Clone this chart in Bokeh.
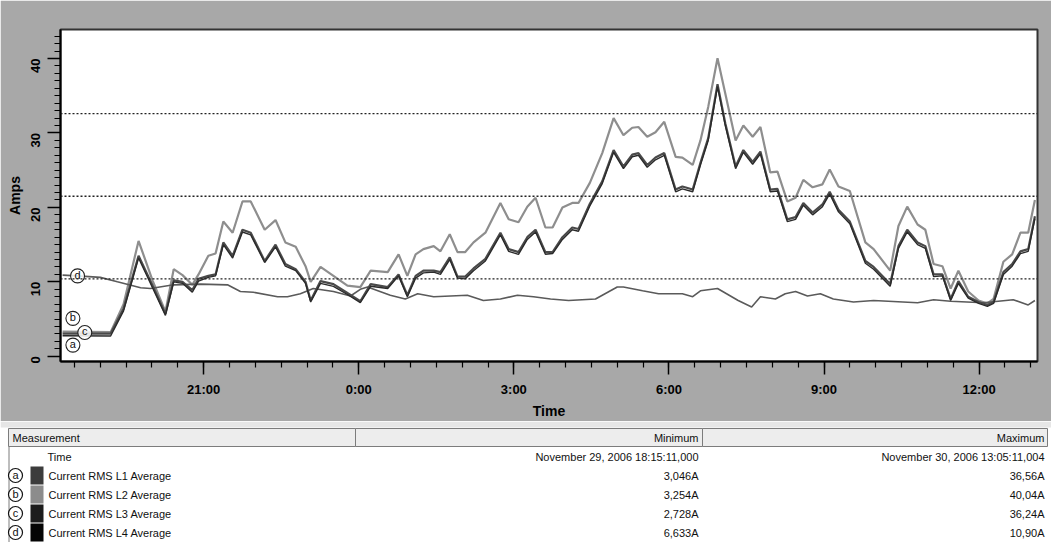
import math
from bokeh.plotting import figure
from bokeh.models import Range1d, FixedTicker, Span
from bokeh.layouts import column
from bokeh.embed import file_html
from bokeh.resources import INLINE
from bokeh.core.properties import value

FONT = "Liberation Sans"

# ---------------- data (time = decimal hours from Nov 29 00:00; 24+ = Nov 30) -------------
t_phase = [18.27, 19.20, 19.45, 19.74, 20.01, 20.26, 20.42, 20.59, 20.78, 20.90,
           21.09, 21.23, 21.38, 21.56, 21.75, 21.91, 22.18, 22.39, 22.58, 22.78,
           22.97, 23.07, 23.26, 23.51, 23.78, 24.03, 24.23, 24.56, 24.77, 24.94,
           25.10, 25.25, 25.45, 25.58, 25.76, 25.91, 26.06, 26.22, 26.45, 26.74,
           26.90, 27.09, 27.26, 27.42, 27.61, 27.75, 27.94, 28.13, 28.25, 28.47,
           28.71, 28.93, 29.12, 29.29, 29.41, 29.58, 29.74, 29.91, 30.13, 30.26,
           30.46, 30.61, 30.76, 30.94, 31.09, 31.29, 31.44, 31.62, 31.77, 31.96,
           32.10, 32.29, 32.45, 32.60, 32.78, 32.97, 33.11, 33.28, 33.50, 33.80,
           33.96, 34.28, 34.44, 34.61, 34.81, 34.96, 35.12, 35.29, 35.45, 35.60,
           35.79, 35.99, 36.16, 36.28, 36.47, 36.64, 36.80, 36.95, 37.08]

l2_avg = [3.3, 3.25, 7.0, 15.5, 10.2, 6.0, 11.7, 10.9, 9.6, 11.0,
          13.5, 13.8, 18.1, 16.6, 20.8, 20.8, 17.0, 18.3, 15.3, 14.7,
          12.1, 10.0, 12.0, 10.8, 9.5, 9.3, 11.5, 11.3, 13.7, 10.8,
          13.7, 14.4, 14.8, 14.1, 16.4, 14.0, 14.0, 15.3, 16.6, 20.6,
          18.4, 18.0, 20.1, 21.3, 17.3, 17.3, 20.0, 20.6, 20.6, 23.3,
          27.3, 32.0, 29.7, 30.7, 30.8, 29.5, 30.1, 31.5, 26.8, 26.7,
          25.7, 29.0, 33.5, 40.04, 35.3, 29.0, 31.0, 29.5, 30.8, 24.7,
          24.8, 20.8, 21.3, 23.7, 22.7, 23.1, 25.1, 22.8, 22.2, 15.3,
          14.4, 11.5, 17.5, 20.1, 17.7, 17.0, 12.4, 12.1, 9.1, 11.5,
          8.7, 7.5, 7.1, 7.7, 12.7, 13.7, 16.6, 16.6, 21.0]

l1_avg = [3.05, 3.05, 6.4, 13.5, 9.5, 5.7, 10.2, 10.0, 8.9, 10.4,
          10.8, 11.0, 15.3, 13.5, 17.0, 16.6, 12.8, 15.0, 12.4, 11.7,
          10.0, 7.5, 10.1, 9.7, 8.5, 7.4, 9.7, 9.3, 11.0, 8.2,
          10.8, 11.5, 11.5, 11.3, 13.3, 10.7, 10.7, 11.8, 13.1, 16.6,
          14.4, 14.0, 16.0, 17.0, 14.0, 14.0, 16.0, 17.3, 17.1, 20.5,
          23.5, 27.7, 25.5, 27.1, 27.3, 25.7, 26.7, 27.3, 22.4, 22.8,
          22.4, 26.0, 29.3, 36.56, 31.3, 25.5, 27.7, 26.1, 27.5, 22.4,
          22.5, 18.4, 18.7, 20.6, 19.3, 20.4, 22.1, 19.7, 18.1, 12.8,
          12.0, 9.7, 14.8, 17.0, 15.3, 14.8, 11.0, 11.0, 7.7, 10.1,
          8.0, 7.3, 6.9, 7.3, 11.3, 12.4, 14.1, 14.4, 18.8]

l3_avg = [2.75, 2.73, 6.1, 13.2, 9.2, 5.5, 10.0, 9.8, 8.6, 10.1,
          10.6, 10.8, 15.0, 13.2, 16.7, 16.3, 12.6, 14.7, 12.1, 11.5,
          9.8, 7.3, 9.8, 9.4, 8.3, 7.2, 9.4, 9.1, 10.8, 8.0,
          10.5, 11.2, 11.3, 11.0, 13.0, 10.5, 10.4, 11.5, 12.8, 16.3,
          14.1, 13.7, 15.7, 16.7, 13.7, 13.8, 15.7, 17.0, 16.8, 20.2,
          23.2, 27.4, 25.2, 26.8, 27.0, 25.4, 26.4, 27.0, 22.1, 22.5,
          22.1, 25.7, 29.0, 36.24, 31.0, 25.2, 27.4, 25.8, 27.2, 22.1,
          22.2, 18.1, 18.4, 20.3, 19.0, 20.1, 21.8, 19.4, 17.8, 12.5,
          11.7, 9.4, 14.5, 16.7, 15.0, 14.5, 10.7, 10.8, 7.5, 9.8,
          7.8, 7.1, 6.7, 7.1, 11.0, 12.1, 13.8, 14.1, 18.5]

t_l4 = [18.27, 18.56, 19.00, 19.33, 19.78, 19.97, 20.42, 20.94, 21.46, 21.71,
        21.96, 22.43, 22.62, 22.87, 23.12, 23.51, 23.84, 24.03, 24.17, 24.61,
        24.90, 25.14, 25.45, 26.10, 26.41, 26.74, 27.07, 27.38, 27.71, 28.06,
        28.58, 29.00, 29.12, 29.49, 29.80, 30.26, 30.46, 30.61, 30.94, 31.34,
        31.60, 31.77, 32.06, 32.25, 32.45, 32.68, 32.93, 33.18, 33.57, 33.96,
        34.81, 35.12, 35.45, 36.08, 36.66, 36.95, 37.08]
l4_avg = [10.9, 10.8, 10.6, 10.0, 9.2, 9.1, 9.6, 9.7, 9.6, 8.7,
          8.6, 8.0, 8.0, 8.4, 9.1, 8.7, 8.1, 9.0, 9.3, 8.2,
          7.7, 8.4, 8.0, 8.2, 7.5, 7.7, 8.2, 8.0, 7.7, 7.5,
          7.7, 9.3, 9.3, 8.8, 8.4, 8.4, 8.0, 8.8, 9.1, 7.5,
          6.63, 8.0, 7.7, 8.4, 8.7, 8.1, 8.4, 7.7, 7.3, 7.5,
          7.2, 7.6, 7.4, 7.2, 7.6, 6.9, 7.5]

threshold_levels = [10.4, 21.5, 32.6]

tick_hours = [21, 24, 27, 30, 33, 36]
tick_labels = ["21:00", "0:00", "3:00", "6:00", "9:00", "12:00"]
y_ticks = [0, 10, 20, 30, 40]

series_letters = ["a", "b", "c", "d"]
series_names = ["Current RMS L1 Average", "Current RMS L2 Average",
                "Current RMS L3 Average", "Current RMS L4 Average"]
series_colors = ["#3c3c3c", "#8c8c8c", "#1c1c1c", "#050505"]
series_min = ["3,046A", "3,254A", "2,728A", "6,633A"]
series_max = ["36,56A", "40,04A", "36,24A", "10,90A"]
time_min = "November 29, 2006 18:15:11,000"
time_max = "November 30, 2006 13:05:11,004"

# circled-letter markers near the start of each trace (a, b, c, d)
marker_x = [18.47, 18.47, 18.70, 18.56]
marker_y = [1.5, 5.1, 3.2, 10.8]

# ---------------- chart ----------------
W = 1051
CH = 421
PANEL = "#a8a8a8"

p = figure(width=W, height=CH, x_range=Range1d(18.23, 37.13), y_range=Range1d(-0.7, 43.9),
           output_backend="svg", toolbar_location=None,
           min_border_left=60, min_border_right=14, min_border_top=29, min_border_bottom=58,
           background_fill_color="white", border_fill_color=PANEL,
           outline_line_color="#333333", outline_line_width=2)
p.xgrid.visible = False
p.ygrid.visible = False

for lvl in threshold_levels:
    p.add_layout(Span(location=lvl, dimension="width", line_color="#222222",
                      line_dash="2 2", line_width=1.3))

p.line(t_phase, l2_avg, line_color="#8e8e8e", line_width=2.2)
p.line(t_l4, l4_avg, line_color="#5a5a5a", line_width=1.6)
p.line(t_phase, l1_avg, line_color="#4a4a4a", line_width=2.2)
p.line(t_phase, l3_avg, line_color="#2a2a2a", line_width=1.4)

p.scatter(marker_x, marker_y, marker="circle", size=14, fill_color="white", fill_alpha=0.85,
          line_color="#222222", line_width=1.1)
p.text(marker_x, marker_y, text=series_letters, text_align="center", text_baseline="middle",
       text_font=value(FONT), text_font_size="11px", text_color="#111111", y_offset=-1)

minor_x = [18.5 + 0.5 * i for i in range(38)]
p.xaxis.ticker = FixedTicker(ticks=tick_hours, minor_ticks=minor_x)
p.xaxis.major_label_overrides = dict(zip(tick_hours, tick_labels))
p.yaxis.ticker = FixedTicker(ticks=y_ticks, minor_ticks=list(range(0, 44)))

for ax in (p.xaxis[0], p.yaxis[0]):
    ax.axis_line_color = "black"
    ax.axis_line_width = 2
    ax.major_tick_line_color = "black"
    ax.major_tick_line_width = 1.5
    ax.minor_tick_line_color = "black"
    ax.minor_tick_line_width = 1.2
    ax.major_tick_in = 0
    ax.minor_tick_in = 0
    ax.major_tick_out = 13
    ax.minor_tick_out = 6
    ax.major_label_text_font = FONT
    ax.major_label_text_font_style = "bold"
    ax.major_label_text_font_size = "13px"
    ax.major_label_text_color = "black"
    ax.axis_label_text_font = FONT
    ax.axis_label_text_font_style = "bold"
    ax.axis_label_text_font_size = "14px"
    ax.axis_label_text_color = "black"

p.xaxis.axis_label = "Time"
p.xaxis.major_label_standoff = 7
p.xaxis.axis_label_standoff = 3
p.yaxis.axis_label = "Amps"
p.yaxis.major_label_orientation = math.pi / 2
p.yaxis.major_label_standoff = 12
p.yaxis.axis_label_standoff = 1

# ---------------- table (drawn in page pixel coordinates) ----------------
TH = 121
Y0 = CH
tb = figure(width=W, height=TH, x_range=Range1d(0, W), y_range=Range1d(Y0 + TH, Y0),
            output_backend="svg", toolbar_location=None, min_border=0,
            background_fill_color="white", border_fill_color="white", outline_line_color=None)
tb.axis.visible = False
tb.xgrid.visible = False
tb.ygrid.visible = False

for f in (p, tb):
    try:
        f.frame_align = False
    except Exception:
        pass

tb.quad(left=[0], right=[W], top=[Y0], bottom=[Y0 + 6], fill_color="#e6e6e6", line_color=None)
tb.quad(left=[8, 355, 702], right=[355, 702, 1047], top=[Y0 + 7] * 3, bottom=[Y0 + 25] * 3,
        fill_color="#ededed", line_color="#7c7c7c", line_width=1)
tb.segment(x0=[8.5], y0=[Y0 + 25], x1=[8.5], y1=[Y0 + TH], line_color="#7c7c7c", line_width=1)

hdr_font = dict(text_font=value(FONT), text_font_size="11px", text_color="#111111",
                text_baseline="middle")
tb.text([12], [Y0 + 16], text=["Measurement"], text_align="left", **hdr_font)
tb.text([698], [Y0 + 16], text=["Minimum"], text_align="right", **hdr_font)
tb.text([1044], [Y0 + 16], text=["Maximum"], text_align="right", **hdr_font)

row_y = [Y0 + 35, Y0 + 54, Y0 + 73, Y0 + 92, Y0 + 111]
tb.text([47], [row_y[0]], text=["Time"], text_align="left", **hdr_font)
tb.text([698], [row_y[0]], text=[time_min], text_align="right", **hdr_font)
tb.text([1044], [row_y[0]], text=[time_max], text_align="right", **hdr_font)

ry = row_y[1:]
tb.scatter([15] * 4, ry, marker="circle", size=14, fill_color="white", line_color="#111111",
           line_width=1.2)
tb.text([15] * 4, ry, text=series_letters, text_align="center", y_offset=-1, **hdr_font)
tb.quad(left=[30] * 4, right=[43] * 4, top=[y - 9 for y in ry], bottom=[y + 9 for y in ry],
        fill_color=series_colors, line_color=None)
tb.text([48] * 4, ry, text=series_names, text_align="left", **hdr_font)
tb.text([698] * 4, ry, text=series_min, text_align="right", **hdr_font)
tb.text([1044] * 4, ry, text=series_max, text_align="right", **hdr_font)

layout = column(p, tb, spacing=0)
open("out.html", "w").write(file_html(layout, INLINE))
